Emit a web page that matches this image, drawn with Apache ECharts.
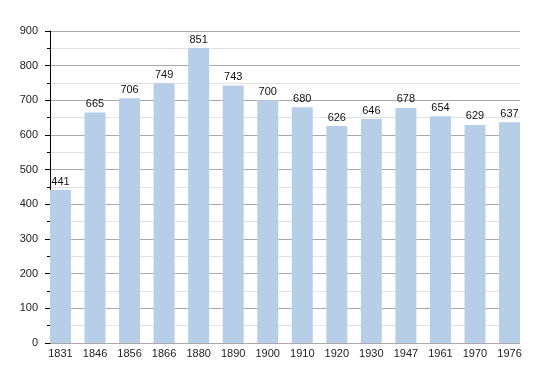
<!DOCTYPE html>
<html><head><meta charset="utf-8">
<script src="https://cdn.jsdelivr.net/npm/echarts@6/dist/echarts.min.js"></script>
<style>html,body{margin:0;padding:0;background:#fff}#c{width:550px;height:373px}</style>
</head><body><div id="c"></div>
<script>
const years = ['1831','1846','1856','1866','1880','1890','1900','1910','1920','1930','1947','1961','1970','1976'];
const population = [441,665,706,749,851,743,700,680,626,646,678,654,629,637];
const yTicks = {min:0, max:900, interval:100};

const chart = echarts.init(document.getElementById('c'), null, {renderer:'canvas'});
const font = 'Liberation Sans, Arial, sans-serif';
chart.setOption({
  animation:false,
  grid:[
    {left:50, right:30, top:31, bottom:30},
    {left:43.2, right:23.2, top:31, bottom:30}
  ],
  xAxis:[
    {gridIndex:0, type:'category', data:years, boundaryGap:true,
     axisLine:{show:false}, axisTick:{show:false}, axisLabel:{show:false}, splitLine:{show:false}},
    {gridIndex:1, type:'category', data:years, boundaryGap:true,
     axisLine:{show:false}, axisTick:{show:false},
     axisLabel:{color:'#222', fontSize:11, fontFamily:font, margin:5}}
  ],
  yAxis:[
    {gridIndex:0, type:'value', min:yTicks.min, max:yTicks.max, interval:yTicks.interval,
     axisLine:{show:true, lineStyle:{color:'#000', width:1}},
     axisTick:{show:true, length:5, lineStyle:{color:'#000'}},
     minorTick:{show:true, splitNumber:2, length:3, lineStyle:{color:'#000'}},
     axisLabel:{color:'#222', fontSize:11, fontFamily:font, margin:12},
     splitLine:{show:true, lineStyle:{color:'#aaaaaa', width:1}},
     minorSplitLine:{show:true, lineStyle:{color:'#e2e2e2', width:1}}},
    {gridIndex:1, type:'value', min:yTicks.min, max:yTicks.max, interval:yTicks.interval, show:false}
  ],
  series:[
    {type:'bar', xAxisIndex:1, yAxisIndex:1, data:population, barWidth:21,
     itemStyle:{color:'#b7cee8'},
     label:{show:true, position:'top', distance:3, color:'#111', fontSize:11, fontFamily:font},
     z:2},
    {type:'line', xAxisIndex:0, yAxisIndex:0, data:[], silent:true,
     markLine:{silent:true, symbol:'none', label:{show:false},
       lineStyle:{color:'#000', width:1, type:'solid'},
       data:[[{coord:[-0.16, 0]},{coord:[13.5, 0]}]]}}
  ]
});
</script>
</body></html>
